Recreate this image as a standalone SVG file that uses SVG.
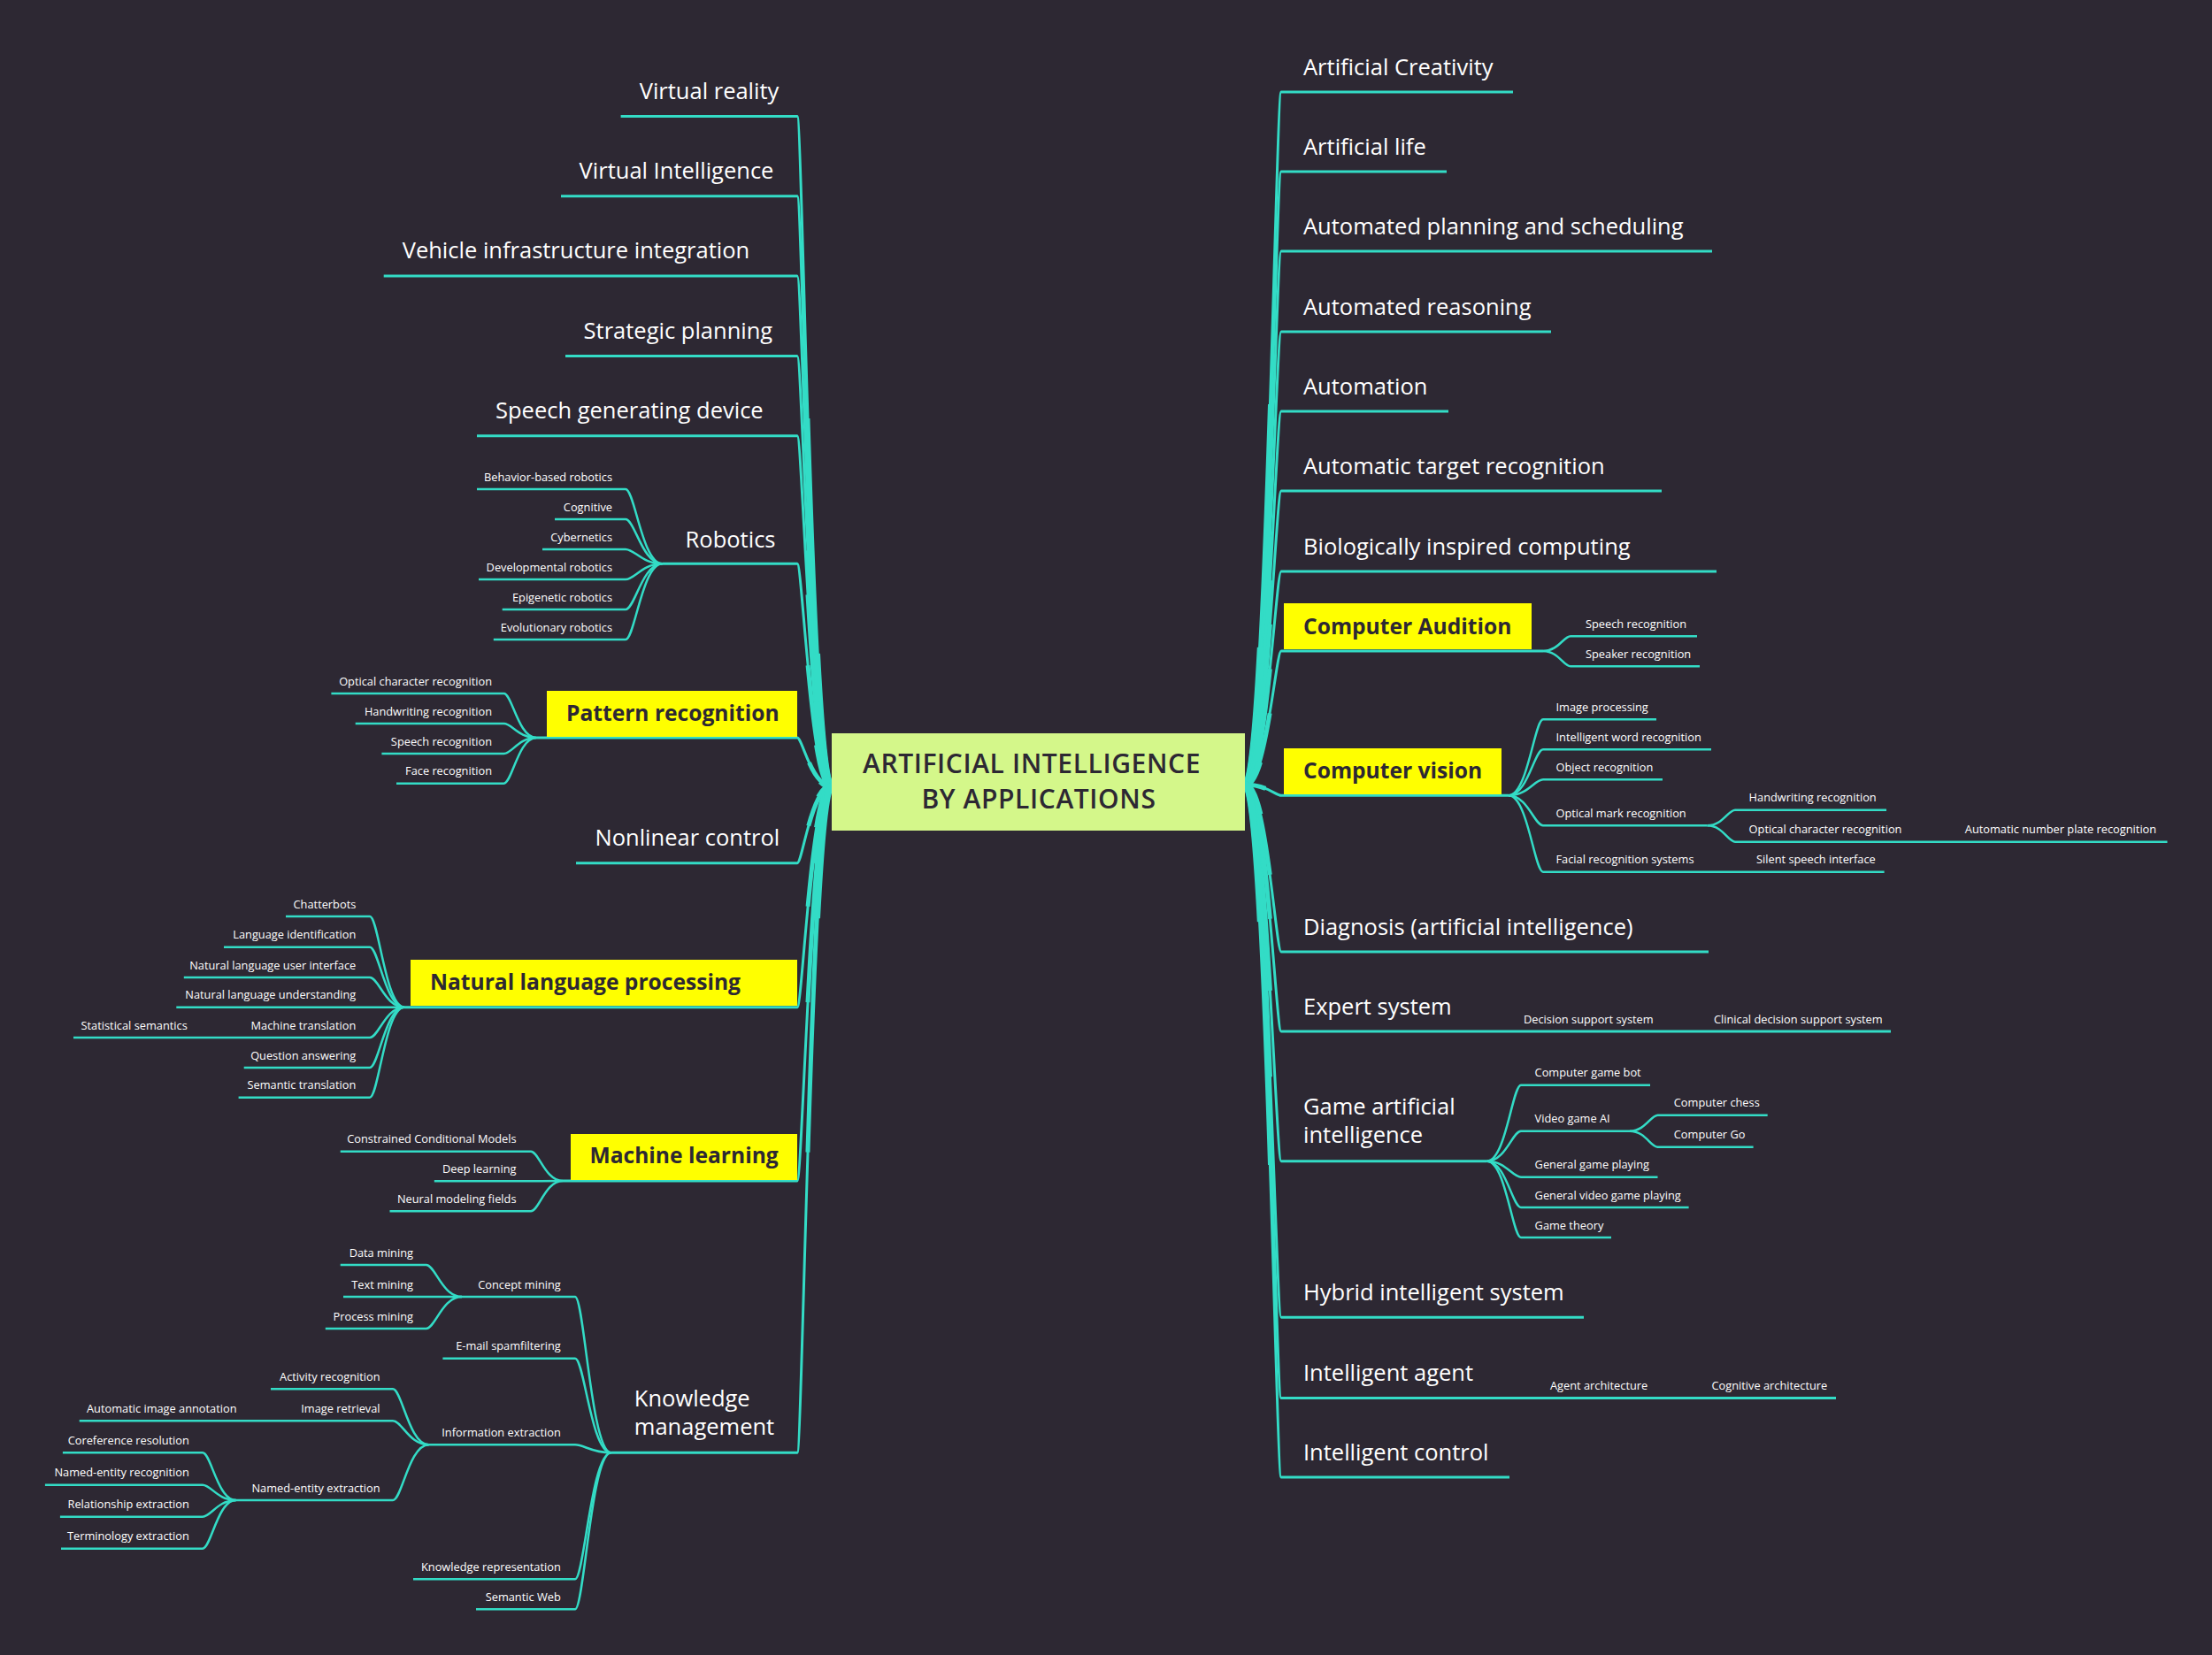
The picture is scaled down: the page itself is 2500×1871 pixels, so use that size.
<svg xmlns="http://www.w3.org/2000/svg" width="2500" height="1871" viewBox="0 0 2500 1871">
<style>
.c{fill:none;stroke:#33dcc6;stroke-linecap:butt}
.m{stroke-width:3}
.s{stroke-width:2.5}
.t1{stroke-width:5;stroke-dasharray:55 300}
.t2{stroke-width:7.5;stroke-dasharray:20 300}
text{font-family:"Open Sans","Liberation Sans",sans-serif}
.L{font-size:25.5px;fill:#ffffff}
.S{font-size:12.8px;font-weight:500;fill:#ffffff}
.B{font-size:24.6px;font-weight:700;fill:#2d2833}
.T{font-size:30px;font-weight:600;fill:#2d2833;letter-spacing:0.6px;text-anchor:middle}
.y{fill:#ffff00}
.e{text-anchor:end}
</style>
<rect width="2500" height="1871" fill="#2d2833"/>
<g id="connectors">
<!-- left main -->
<path class="c m" d="M940 889C917 889 907 131.5 901 131.5H701.6"/>
<path class="c m" d="M940 889C917 889 907 221.7 901 221.7H634"/>
<path class="c m" d="M940 889C917 889 907 311.9 901 311.9H433.7"/>
<path class="c m" d="M940 889C917 889 907 402.5 901 402.5H639"/>
<path class="c m" d="M940 889C917 889 907 492.7 901 492.7H539"/>
<path class="c m" d="M940 889C917 889 907 637.3 901 637.3H748.6"/>
<path class="c m" d="M940 889C917 889 907 834 901 834H606"/>
<path class="c m" d="M940 889C917 889 907 975.7 901 975.7H651"/>
<path class="c m" d="M940 889C917 889 907 1138.7 901 1138.7H457"/>
<path class="c m" d="M940 889C917 889 907 1335 901 1335H636"/>
<path class="c m" d="M940 889C917 889 907 1642.3 901 1642.3H690.7"/>
<path class="c t1" pathLength="100" d="M940 889C917 889 907 131.5 901 131.5"/>
<path class="c t1" pathLength="100" d="M940 889C917 889 907 221.7 901 221.7"/>
<path class="c t1" pathLength="100" d="M940 889C917 889 907 311.9 901 311.9"/>
<path class="c t1" pathLength="100" d="M940 889C917 889 907 402.5 901 402.5"/>
<path class="c t1" pathLength="100" d="M940 889C917 889 907 492.7 901 492.7"/>
<path class="c t1" pathLength="100" d="M940 889C917 889 907 637.3 901 637.3"/>
<path class="c t1" pathLength="100" d="M940 889C917 889 907 834 901 834"/>
<path class="c t1" pathLength="100" d="M940 889C917 889 907 975.7 901 975.7"/>
<path class="c t1" pathLength="100" d="M940 889C917 889 907 1138.7 901 1138.7"/>
<path class="c t1" pathLength="100" d="M940 889C917 889 907 1335 901 1335"/>
<path class="c t1" pathLength="100" d="M940 889C917 889 907 1642.3 901 1642.3"/>
<path class="c t2" pathLength="100" d="M940 889C917 889 907 131.5 901 131.5"/>
<path class="c t2" pathLength="100" d="M940 889C917 889 907 221.7 901 221.7"/>
<path class="c t2" pathLength="100" d="M940 889C917 889 907 311.9 901 311.9"/>
<path class="c t2" pathLength="100" d="M940 889C917 889 907 402.5 901 402.5"/>
<path class="c t2" pathLength="100" d="M940 889C917 889 907 492.7 901 492.7"/>
<path class="c t2" pathLength="100" d="M940 889C917 889 907 637.3 901 637.3"/>
<path class="c t2" pathLength="100" d="M940 889C917 889 907 834 901 834"/>
<path class="c t2" pathLength="100" d="M940 889C917 889 907 975.7 901 975.7"/>
<path class="c t2" pathLength="100" d="M940 889C917 889 907 1138.7 901 1138.7"/>
<path class="c t2" pathLength="100" d="M940 889C917 889 907 1335 901 1335"/>
<path class="c t2" pathLength="100" d="M940 889C917 889 907 1642.3 901 1642.3"/>
<!-- right main -->
<path class="c m" d="M1407 887C1431 887 1442 104 1448 104H1710"/>
<path class="c m" d="M1407 887C1431 887 1442 194 1448 194H1635"/>
<path class="c m" d="M1407 887C1431 887 1442 284 1448 284H1935"/>
<path class="c m" d="M1407 887C1431 887 1442 375 1448 375H1753"/>
<path class="c m" d="M1407 887C1431 887 1442 465 1448 465H1637"/>
<path class="c m" d="M1407 887C1431 887 1442 555 1448 555H1878"/>
<path class="c m" d="M1407 887C1431 887 1442 646 1448 646H1940"/>
<path class="c m" d="M1407 887C1431 887 1442 736 1448 736H1744"/>
<path class="c m" d="M1407 887C1431 887 1442 899.3 1448 899.3H1705"/>
<path class="c m" d="M1407 887C1431 887 1442 1076 1448 1076H1931"/>
<path class="c m" d="M1407 887C1431 887 1442 1166 1448 1166H2137"/>
<path class="c m" d="M1407 887C1431 887 1442 1312.7 1448 1312.7H1680.6"/>
<path class="c m" d="M1407 887C1431 887 1442 1489.3 1448 1489.3H1790"/>
<path class="c m" d="M1407 887C1431 887 1442 1580.5 1448 1580.5H2075"/>
<path class="c m" d="M1407 887C1431 887 1442 1670 1448 1670H1706"/>
<path class="c t1" pathLength="100" d="M1407 887C1431 887 1442 104 1448 104"/>
<path class="c t1" pathLength="100" d="M1407 887C1431 887 1442 194 1448 194"/>
<path class="c t1" pathLength="100" d="M1407 887C1431 887 1442 284 1448 284"/>
<path class="c t1" pathLength="100" d="M1407 887C1431 887 1442 375 1448 375"/>
<path class="c t1" pathLength="100" d="M1407 887C1431 887 1442 465 1448 465"/>
<path class="c t1" pathLength="100" d="M1407 887C1431 887 1442 555 1448 555"/>
<path class="c t1" pathLength="100" d="M1407 887C1431 887 1442 646 1448 646"/>
<path class="c t1" pathLength="100" d="M1407 887C1431 887 1442 736 1448 736"/>
<path class="c t1" pathLength="100" d="M1407 887C1431 887 1442 899.3 1448 899.3"/>
<path class="c t1" pathLength="100" d="M1407 887C1431 887 1442 1076 1448 1076"/>
<path class="c t1" pathLength="100" d="M1407 887C1431 887 1442 1166 1448 1166"/>
<path class="c t1" pathLength="100" d="M1407 887C1431 887 1442 1312.7 1448 1312.7"/>
<path class="c t1" pathLength="100" d="M1407 887C1431 887 1442 1489.3 1448 1489.3"/>
<path class="c t1" pathLength="100" d="M1407 887C1431 887 1442 1580.5 1448 1580.5"/>
<path class="c t1" pathLength="100" d="M1407 887C1431 887 1442 1670 1448 1670"/>
<path class="c t2" pathLength="100" d="M1407 887C1431 887 1442 104 1448 104"/>
<path class="c t2" pathLength="100" d="M1407 887C1431 887 1442 194 1448 194"/>
<path class="c t2" pathLength="100" d="M1407 887C1431 887 1442 284 1448 284"/>
<path class="c t2" pathLength="100" d="M1407 887C1431 887 1442 375 1448 375"/>
<path class="c t2" pathLength="100" d="M1407 887C1431 887 1442 465 1448 465"/>
<path class="c t2" pathLength="100" d="M1407 887C1431 887 1442 555 1448 555"/>
<path class="c t2" pathLength="100" d="M1407 887C1431 887 1442 646 1448 646"/>
<path class="c t2" pathLength="100" d="M1407 887C1431 887 1442 736 1448 736"/>
<path class="c t2" pathLength="100" d="M1407 887C1431 887 1442 899.3 1448 899.3"/>
<path class="c t2" pathLength="100" d="M1407 887C1431 887 1442 1076 1448 1076"/>
<path class="c t2" pathLength="100" d="M1407 887C1431 887 1442 1166 1448 1166"/>
<path class="c t2" pathLength="100" d="M1407 887C1431 887 1442 1312.7 1448 1312.7"/>
<path class="c t2" pathLength="100" d="M1407 887C1431 887 1442 1489.3 1448 1489.3"/>
<path class="c t2" pathLength="100" d="M1407 887C1431 887 1442 1580.5 1448 1580.5"/>
<path class="c t2" pathLength="100" d="M1407 887C1431 887 1442 1670 1448 1670"/>
<!-- robotics -->
<path class="c s" d="M748.6 637.3C725.7 637.3 717.4 553 707 553H539"/>
<path class="c s" d="M748.6 637.3C725.7 637.3 717.4 587 707 587H627"/>
<path class="c s" d="M748.6 637.3C725.7 637.3 717.4 621 707 621H613"/>
<path class="c s" d="M748.6 637.3C725.7 637.3 717.4 655 707 655H541"/>
<path class="c s" d="M748.6 637.3C725.7 637.3 717.4 689 707 689H567.7"/>
<path class="c s" d="M748.6 637.3C725.7 637.3 717.4 723 707 723H557.8"/>
<!-- pattern recognition -->
<path class="c s" d="M606 834C585.9 834 578.6 784 569.5 784H374.4"/>
<path class="c s" d="M606 834C585.9 834 578.6 818 569.5 818H401.7"/>
<path class="c s" d="M606 834C585.9 834 578.6 852 569.5 852H431.4"/>
<path class="c s" d="M606 834C585.9 834 578.6 885.7 569.5 885.7H448"/>
<!-- NLP -->
<path class="c s" d="M457 1138.7C435.5 1138.7 427.8 1036 418 1036H323"/>
<path class="c s" d="M457 1138.7C435.5 1138.7 427.8 1070.7 418 1070.7H253"/>
<path class="c s" d="M457 1138.7C435.5 1138.7 427.8 1105 418 1105H207.8"/>
<path class="c s" d="M457 1138.7C435.5 1138.7 427.8 1138.7 418 1138.7H199.3"/>
<path class="c s" d="M457 1138.7C435.5 1138.7 427.8 1173 418 1173H83"/>
<path class="c s" d="M457 1138.7C435.5 1138.7 427.8 1207 418 1207H275.7"/>
<path class="c s" d="M457 1138.7C435.5 1138.7 427.8 1240.7 418 1240.7H269.6"/>
<!-- ML -->
<path class="c s" d="M636 1335C616.2 1335 609 1301.7 600 1301.7H384.7"/>
<path class="c s" d="M636 1335C616.2 1335 609 1335.3 600 1335.3H490.8"/>
<path class="c s" d="M636 1335C616.2 1335 609 1369.3 600 1369.3H440.5"/>
<!-- KM -->
<path class="c s" d="M690.7 1642.3C668.3 1642.3 660.2 1466 650 1466H522"/>
<path class="c s" d="M690.7 1642.3C668.3 1642.3 660.2 1535.7 650 1535.7H500.4"/>
<path class="c s" d="M690.7 1642.3C668.3 1642.3 660.2 1633.3 650 1633.3H484.7"/>
<path class="c s" d="M690.7 1642.3C668.3 1642.3 660.2 1785.3 650 1785.3H467"/>
<path class="c s" d="M690.7 1642.3C668.3 1642.3 660.2 1819.3 650 1819.3H538"/>
<path class="c s" d="M522 1466C499.8 1466 491.8 1430 481.7 1430H384.7"/>
<path class="c s" d="M522 1466C499.8 1466 491.8 1466 481.7 1466H388"/>
<path class="c s" d="M522 1466C499.8 1466 491.8 1502 481.7 1502H367.8"/>
<path class="c s" d="M484.7 1633.3C462.3 1633.3 454.2 1570.3 444 1570.3H306"/>
<path class="c s" d="M484.7 1633.3C462.3 1633.3 454.2 1606.3 444 1606.3H89.7"/>
<path class="c s" d="M484.7 1633.3C462.3 1633.3 454.2 1696 444 1696H266.6"/>
<path class="c s" d="M266.6 1696C245.9 1696 238.4 1642.3 229 1642.3H70.9"/>
<path class="c s" d="M266.6 1696C245.9 1696 238.4 1678.7 229 1678.7H50.9"/>
<path class="c s" d="M266.6 1696C245.9 1696 238.4 1714.7 229 1714.7H67.9"/>
<path class="c s" d="M266.6 1696C245.9 1696 238.4 1750.7 229 1750.7H69"/>
<!-- computer audition -->
<path class="c s" d="M1744 736C1761 736 1767.3 719.3 1775 719.3H1918"/>
<path class="c s" d="M1744 736C1761 736 1767.3 753.3 1775 753.3H1921"/>
<!-- computer vision -->
<path class="c s" d="M1705 899.3C1726.5 899.3 1734.3 813.3 1744 813.3H1872"/>
<path class="c s" d="M1705 899.3C1726.5 899.3 1734.3 847.3 1744 847.3H1934"/>
<path class="c s" d="M1705 899.3C1726.5 899.3 1734.3 881.3 1744 881.3H1879"/>
<path class="c s" d="M1705 899.3C1726.5 899.3 1734.3 933.3 1744 933.3H1929.6"/>
<path class="c s" d="M1705 899.3C1726.5 899.3 1734.3 985.7 1744 985.7H2129.6"/>
<path class="c s" d="M1929.6 933.3C1946.9 933.3 1953.2 915.7 1961 915.7H2132"/>
<path class="c s" d="M1929.6 933.3C1946.9 933.3 1953.2 951.7 1961 951.7H2449.5"/>
<!-- game AI -->
<path class="c s" d="M1680.6 1312.7C1701.7 1312.7 1709.4 1226.7 1719 1226.7H1865"/>
<path class="c s" d="M1680.6 1312.7C1701.7 1312.7 1709.4 1278.7 1719 1278.7H1842"/>
<path class="c s" d="M1680.6 1312.7C1701.7 1312.7 1709.4 1330.7 1719 1330.7H1873.5"/>
<path class="c s" d="M1680.6 1312.7C1701.7 1312.7 1709.4 1365 1719 1365H1908.6"/>
<path class="c s" d="M1680.6 1312.7C1701.7 1312.7 1709.4 1399 1719 1399H1821"/>
<path class="c s" d="M1842 1278.7C1859.3 1278.7 1865.6 1260.7 1873.5 1260.7H1997.7"/>
<path class="c s" d="M1842 1278.7C1859.3 1278.7 1865.6 1296.7 1873.5 1296.7H1981.6"/>
</g>

<g id="root">
<rect x="940" y="829" width="467" height="110" fill="#d4f78a"/>
<text class="T" x="1166" y="874">ARTIFICIAL INTELLIGENCE</text>
<text class="T" x="1174" y="914">BY APPLICATIONS</text>
</g>

<!-- left main nodes -->
<g id="n-virtual-reality"><text class="L" x="722.7" y="112">Virtual reality</text></g>
<g id="n-virtual-intelligence"><text class="L" x="654.6" y="202.2">Virtual Intelligence</text></g>
<g id="n-vehicle"><text class="L" x="454.7" y="292.4">Vehicle infrastructure integration</text></g>
<g id="n-strategic"><text class="L" x="659.6" y="383">Strategic planning</text></g>
<g id="n-speech-gen"><text class="L" x="560" y="473.2">Speech generating device</text></g>
<g id="n-robotics"><text class="L" x="774.6" y="618.5">Robotics</text></g>
<g id="n-robotics-subs">
<text class="S e" x="692" y="543.5">Behavior-based robotics</text>
<text class="S e" x="692" y="577.5">Cognitive</text>
<text class="S e" x="692" y="611.5">Cybernetics</text>
<text class="S e" x="692" y="645.5">Developmental robotics</text>
<text class="S e" x="692" y="679.5">Epigenetic robotics</text>
<text class="S e" x="692" y="713.5">Evolutionary robotics</text>
</g>
<g id="n-pattern">
<rect class="y" x="618" y="781" width="283" height="52"/>
<text class="B" x="640" y="815">Pattern recognition</text>
</g>
<g id="n-pattern-subs">
<text class="S e" x="556" y="774.5">Optical character recognition</text>
<text class="S e" x="556" y="808.5">Handwriting recognition</text>
<text class="S e" x="556" y="842.5">Speech recognition</text>
<text class="S e" x="556" y="876.2">Face recognition</text>
</g>
<g id="n-nonlinear"><text class="L" x="672.5" y="956.2">Nonlinear control</text></g>
<g id="n-nlp">
<rect class="y" x="464" y="1085" width="437" height="52"/>
<text class="B" x="486" y="1119">Natural language processing</text>
</g>
<g id="n-nlp-subs">
<text class="S e" x="402.3" y="1026.5">Chatterbots</text>
<text class="S e" x="402.3" y="1061.2">Language identification</text>
<text class="S e" x="402.3" y="1095.5">Natural language user interface</text>
<text class="S e" x="402.3" y="1129.2">Natural language understanding</text>
<text class="S e" x="402.3" y="1163.5">Machine translation</text>
<text class="S" x="91.5" y="1163.5">Statistical semantics</text>
<text class="S e" x="402.3" y="1197.5">Question answering</text>
<text class="S e" x="402.3" y="1231.2">Semantic translation</text>
</g>
<g id="n-ml">
<rect class="y" x="645" y="1282" width="256" height="52"/>
<text class="B" x="666.5" y="1315">Machine learning</text>
</g>
<g id="n-ml-subs">
<text class="S e" x="583.5" y="1292.2">Constrained Conditional Models</text>
<text class="S e" x="583.5" y="1325.8">Deep learning</text>
<text class="S e" x="583.5" y="1359.8">Neural modeling fields</text>
</g>
<g id="n-km"><text class="L"><tspan x="716.8" y="1590">Knowledge</tspan><tspan x="716.8" y="1622">management</tspan></text></g>
<g id="n-km-subs">
<text class="S e" x="633.8" y="1456.5">Concept mining</text>
<text class="S e" x="467" y="1420.5">Data mining</text>
<text class="S e" x="467" y="1456.5">Text mining</text>
<text class="S e" x="467" y="1492.5">Process mining</text>
<text class="S e" x="633.8" y="1526.2">E-mail spamfiltering</text>
<text class="S e" x="633.8" y="1623.8">Information extraction</text>
<text class="S e" x="429.6" y="1560.8">Activity recognition</text>
<text class="S e" x="429.6" y="1596.8">Image retrieval</text>
<text class="S" x="98" y="1596.8">Automatic image annotation</text>
<text class="S e" x="429.6" y="1686.5">Named-entity extraction</text>
<text class="S e" x="213.9" y="1632.8">Coreference resolution</text>
<text class="S e" x="213.9" y="1669.2">Named-entity recognition</text>
<text class="S e" x="213.9" y="1705.2">Relationship extraction</text>
<text class="S e" x="213.9" y="1741.2">Terminology extraction</text>
<text class="S e" x="633.8" y="1775.8">Knowledge representation</text>
<text class="S e" x="633.8" y="1809.8">Semantic Web</text>
</g>

<!-- right main nodes -->
<g id="n-art-creativity"><text class="L" x="1473" y="84.5">Artificial Creativity</text></g>
<g id="n-art-life"><text class="L" x="1473" y="174.5">Artificial life</text></g>
<g id="n-planning"><text class="L" x="1473" y="264.5">Automated planning and scheduling</text></g>
<g id="n-reasoning"><text class="L" x="1473" y="355.5">Automated reasoning</text></g>
<g id="n-automation"><text class="L" x="1473" y="445.5">Automation</text></g>
<g id="n-target"><text class="L" x="1473" y="535.5">Automatic target recognition</text></g>
<g id="n-bio"><text class="L" x="1473" y="626.5">Biologically inspired computing</text></g>
<g id="n-audition">
<rect class="y" x="1451" y="682" width="280" height="52"/>
<text class="B" x="1473" y="717">Computer Audition</text>
</g>
<g id="n-audition-subs">
<text class="S" x="1792" y="709.8">Speech recognition</text>
<text class="S" x="1792" y="743.8">Speaker recognition</text>
</g>
<g id="n-vision">
<rect class="y" x="1451" y="846" width="246" height="52"/>
<text class="B" x="1473" y="880">Computer vision</text>
</g>
<g id="n-vision-subs">
<text class="S" x="1758.5" y="803.8">Image processing</text>
<text class="S" x="1758.5" y="837.8">Intelligent word recognition</text>
<text class="S" x="1758.5" y="871.8">Object recognition</text>
<text class="S" x="1758.5" y="923.8">Optical mark recognition</text>
<text class="S" x="1976.6" y="906.2">Handwriting recognition</text>
<text class="S" x="1976.6" y="942.2">Optical character recognition</text>
<text class="S" x="2220.8" y="942.2">Automatic number plate recognition</text>
<text class="S" x="1758.5" y="976.2">Facial recognition systems</text>
<text class="S" x="1985" y="976.2">Silent speech interface</text>
</g>
<g id="n-diagnosis"><text class="L" x="1473" y="1056.5">Diagnosis (artificial intelligence)</text></g>
<g id="n-expert">
<text class="L" x="1473" y="1146.7">Expert system</text>
<text class="S" x="1722" y="1156.7">Decision support system</text>
<text class="S" x="1937" y="1156.7">Clinical decision support system</text>
</g>
<g id="n-game"><text class="L"><tspan x="1473" y="1260">Game artificial</tspan><tspan x="1473" y="1291.7">intelligence</tspan></text></g>
<g id="n-game-subs">
<text class="S" x="1734.6" y="1217.2">Computer game bot</text>
<text class="S" x="1734.6" y="1269.2">Video game AI</text>
<text class="S" x="1891.8" y="1251.2">Computer chess</text>
<text class="S" x="1891.8" y="1287.2">Computer Go</text>
<text class="S" x="1734.6" y="1321.2">General game playing</text>
<text class="S" x="1734.6" y="1355.5">General video game playing</text>
<text class="S" x="1734.6" y="1389.5">Game theory</text>
</g>
<g id="n-hybrid"><text class="L" x="1473" y="1469.8">Hybrid intelligent system</text></g>
<g id="n-agent">
<text class="L" x="1473" y="1561">Intelligent agent</text>
<text class="S" x="1752" y="1571">Agent architecture</text>
<text class="S" x="1934.5" y="1571">Cognitive architecture</text>
</g>
<g id="n-control"><text class="L" x="1473" y="1650.5">Intelligent control</text></g>
</svg>
